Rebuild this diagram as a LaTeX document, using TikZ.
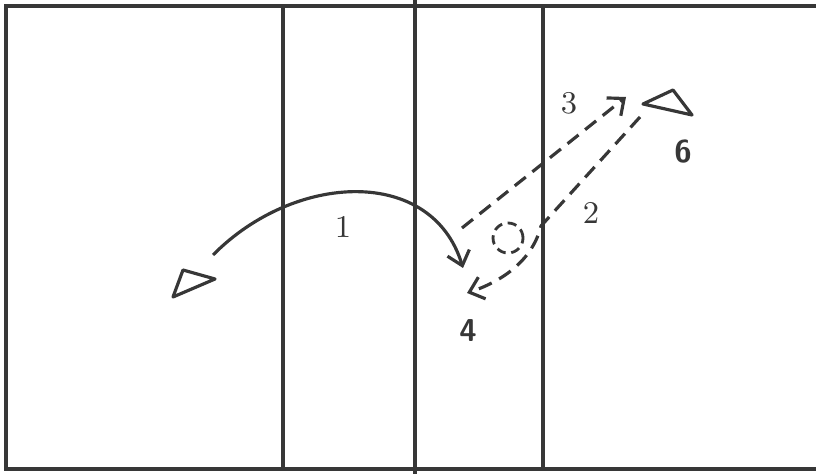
\documentclass[tikz,border=0pt]{standalone}
\usepackage{xcolor}
\usepackage{tikz}
\usetikzlibrary{arrows.meta}
\definecolor{inkgrey}{RGB}{55,55,55}

\begin{document}
\begin{tikzpicture}[
    x=0.01cm, y=-0.01cm,
    court/.style={draw=inkgrey, line width=0.95pt},
    player/.style={draw=inkgrey, line width=0.9pt, line join=round},
    pass/.style={draw=inkgrey, line width=0.9pt, -{Straight Barb[length=3.8pt, width=6.5pt]}},
    run/.style={pass, dash pattern=on 4pt off 2.4pt},
    num/.style={inner sep=0pt, font=\small, text=inkgrey},
    spotnum/.style={inner sep=0pt, font=\sffamily\bfseries\small, text=inkgrey}
]
\useasboundingbox (0,0) rectangle (816,474);

% court
\draw[court] (816,6) -- (6,6) -- (6,469) -- (816,469);
\draw[court] (283,6) -- (283,469);
\draw[court] (415,0) -- (415,474);
\draw[court] (543,6) -- (543,469);

% players
\draw[player] (183,270) -- (215,279) -- (173,297) -- cycle;
\draw[player] (643,104) -- (673,90) -- (692,115) -- cycle;
\node[draw=inkgrey, line width=0.8pt, dash pattern=on 2.6pt off 1.6pt, circle,
      minimum size=30*0.01cm, inner sep=0pt] (ball) at (508,238) {};

\coordinate (pA) at (213,255);
\coordinate (pB) at (640,117);
\coordinate (land) at (463,268);
\coordinate (cut) at (541,226);
\coordinate (back) at (467,293);
\coordinate (go) at (462,228);
\coordinate (top) at (626,97);

% passes and runs
\draw[pass] (pA) .. controls (295,172) and (432,166) .. (land);
\draw[run] (pB) -- (cut) .. controls (532,262) and (500,282) .. (back);
\draw[run] (go) -- (top);

% labels
\node[num] (n1) at (343,227) {1};
\node[num] (n2) at (591,213) {2};
\node[num] (n3) at (569,103) {3};
\node[spotnum] (n4) at (468,331) {4};
\node[spotnum] (n6) at (683,152) {6};
\end{tikzpicture}
\end{document}
